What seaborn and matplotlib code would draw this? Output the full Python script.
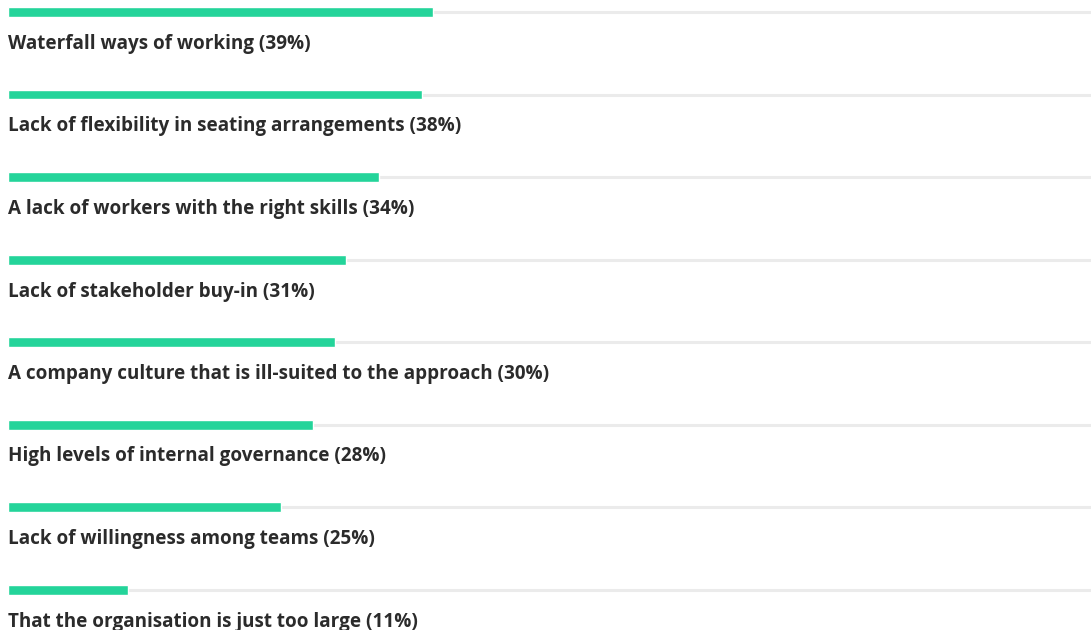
import matplotlib
matplotlib.use("Agg")
import matplotlib.pyplot as plt
import seaborn as sns
import pandas as pd

categories = [
    "Waterfall ways of working",
    "Lack of flexibility in seating arrangements",
    "A lack of workers with the right skills",
    "Lack of stakeholder buy-in",
    "A company culture that is ill-suited to the approach",
    "High levels of internal governance",
    "Lack of willingness among teams",
    "That the organisation is just too large",
]
values = [39, 38, 34, 31, 30, 28, 25, 11]

BAR_COLOR = "#24d49a"
TRACK_COLOR = "#ebebeb"
TEXT_COLOR = "#2b2b2b"

sns.set_theme(style="white")
plt.rcParams["font.family"] = ["Open Sans", "DejaVu Sans"]

df = pd.DataFrame({"cat": categories, "val": values})

W, H = 1091, 630
fig = plt.figure(figsize=(W / 100, H / 100), dpi=100)
ax = fig.add_axes([0, 0, 1, 1])

row_px = 82.5
px_per_unit = 10.92
x0_px = 7.5
top_px = 12

xmin = -x0_px / px_per_unit
xmax = (W - x0_px) / px_per_unit
n = len(categories)

# grey tracks behind each bar
for i in range(n):
    ax.plot([0, xmax], [i, i], color=TRACK_COLOR, lw=2.2, solid_capstyle="butt", zorder=1)

sns.barplot(data=df, x="val", y="cat", orient="h", color=BAR_COLOR,
            width=10 / row_px, saturation=1, ax=ax, zorder=2)

for i, (c, v) in enumerate(zip(categories, values)):
    ax.text(0, i + 32.0 / row_px, f"{c} ({v}%)", ha="left", va="center",
            fontsize=13.6, fontweight="bold", color=TEXT_COLOR)

ax.set_xlim(xmin, xmax)
ax.set_ylim(-top_px / row_px + H / row_px, -top_px / row_px)
ax.axis("off")

fig.savefig("out.png", dpi=100)
